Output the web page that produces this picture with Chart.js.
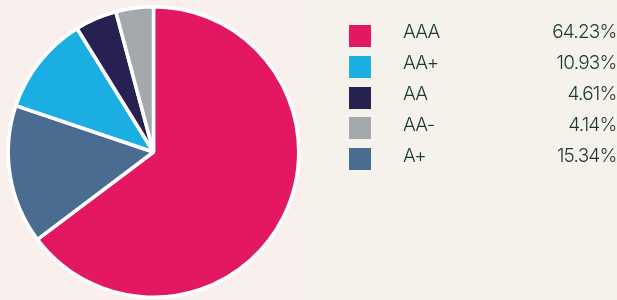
<!DOCTYPE html>
<html>
<head>
<meta charset="utf-8">
<script src="https://cdn.jsdelivr.net/npm/chart.js@4"></script>
<style>
  html, body { margin: 0; padding: 0; background: #f5f2ec; }
  #wrap { position: relative; width: 617px; height: 300px; }
</style>
</head>
<body>
<div id="wrap"><canvas id="ratingChart" width="617" height="300"></canvas></div>
<script>
// data in pie order (clockwise from top)
const ratings = ['AAA', 'A+', 'AA+', 'AA', 'AA-'];
const shares = [64.23, 15.34, 10.93, 4.61, 4.14];
const colours = ['#e31762', '#4b6c91', '#1aaee3', '#262151', '#a3a9ad'];
// legend shows a different order
const legendOrder = ['AAA', 'AA+', 'AA', 'AA-', 'A+'];

// two-tone page background + legend on the right
const backdrop = {
  id: 'backdrop',
  beforeDraw(chart) {
    const c = chart.ctx;
    c.save();
    c.fillStyle = '#f9f0ed';
    c.fillRect(0, 0, 308, chart.height);
    c.fillStyle = '#f5f2ec';
    c.fillRect(308, 0, chart.width - 308, chart.height);
    c.restore();
  },
  afterDraw(chart) {
    const c = chart.ctx;
    c.save();
    c.font = '300 19px Inter';
    c.letterSpacing = '-0.8px';
    c.textBaseline = 'alphabetic';
    legendOrder.forEach((name, i) => {
      const k = ratings.indexOf(name);
      const y = 25 + i * 30.8;
      c.fillStyle = colours[k];
      c.fillRect(349, Math.round(y), 22, 22);
      c.fillStyle = '#1c3833';
      c.textAlign = 'left';
      c.fillText(name, 403, y + 13.3);
      c.textAlign = 'right';
      c.fillText(shares[k].toFixed(2) + '%', 616.5, y + 13.3);
    });
    c.restore();
  }
};

new Chart(document.getElementById('ratingChart'), {
  type: 'pie',
  data: {
    labels: ratings,
    datasets: [{
      data: shares,
      backgroundColor: colours,
      borderColor: '#ffffff',
      borderWidth: 3.5
    }]
  },
  options: {
    responsive: false,
    animation: false,
    layout: { padding: { left: 6, top: 5, right: 316, bottom: 1 } },
    plugins: {
      legend: { display: false },
      tooltip: { enabled: false }
    }
  },
  plugins: [backdrop]
});
</script>
</body>
</html>
